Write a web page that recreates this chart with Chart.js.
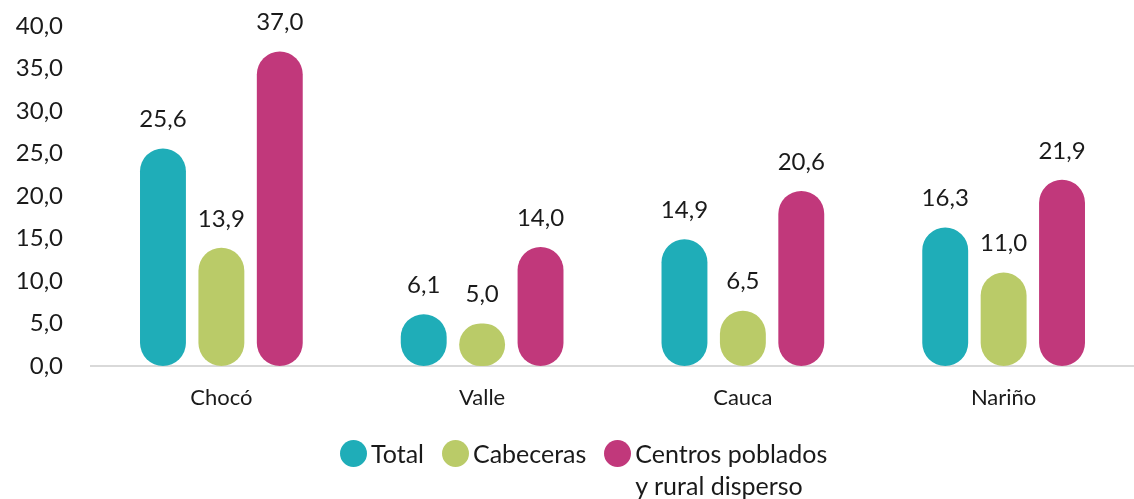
<!DOCTYPE html>
<html>
<head>
<meta charset="utf-8">
<script src="https://cdn.jsdelivr.net/npm/chart.js@4"></script>
<style>
  html, body { margin: 0; padding: 0; background: #fff; }
  #wrap { position: relative; width: 1134px; height: 499px; }
  #legend {
    position: absolute; left: 340px; top: 437px;
    display: flex; align-items: flex-start;
    font-family: Lato, sans-serif; font-size: 25px; color: #1a1a1a; line-height: 32px;
  }
  #legend .item { display: flex; align-items: flex-start; margin-right: 18px; }
  #legend .dot { width: 27px; height: 27px; border-radius: 50%; margin: 3px 4px 0 0; flex: none; }
</style>
</head>
<body>
<div id="wrap">
  <canvas id="chart" width="1134" height="499"></canvas>
  <div id="legend"></div>
</div>
<script>
// ---- données ----
const categories = ['Chocó', 'Valle', 'Cauca', 'Nariño'];
const seriesNames = [['Total'], ['Cabeceras'], ['Centros poblados', 'y rural disperso']];
const totalValues = [25.6, 6.1, 14.9, 16.3];
const cabecerasValues = [13.9, 5.0, 6.5, 11.0];
const centrosValues = [37.0, 14.0, 20.6, 21.9];
const seriesColors = ['#1fadb8', '#bacb68', '#c1387b'];

const fmt = v => v.toFixed(1).replace('.', ',');
const FONT = 'Lato, sans-serif';

// étiquettes de valeur au-dessus des barres
const valueLabels = {
  id: 'valueLabels',
  afterDatasetsDraw(chart) {
    const c = chart.ctx;
    c.save();
    c.font = '24px ' + FONT;
    c.fillStyle = '#1a1a1a';
    c.textAlign = 'center';
    c.textBaseline = 'middle';
    chart.data.datasets.forEach((ds, i) => {
      chart.getDatasetMeta(i).data.forEach((bar, j) => {
        c.fillText(fmt(ds.data[j]), bar.x, bar.y - 29);
      });
    });
    c.restore();
  }
};

const allValues = [totalValues, cabecerasValues, centrosValues];
const chart = new Chart(document.getElementById('chart'), {
  type: 'bar',
  data: {
    labels: categories,
    datasets: allValues.map((vals, i) => ({
      label: seriesNames[i].join(' '),
      data: vals,
      backgroundColor: seriesColors[i],
      borderRadius: 23,
      borderSkipped: false,
      categoryPercentage: 0.672,
      barPercentage: 0.786
    }))
  },
  options: {
    responsive: false,
    animation: false,
    layout: { padding: { top: 26, right: 0, left: 0, bottom: 0 } },
    plugins: { legend: { display: false }, tooltip: { enabled: false } },
    scales: {
      x: {
        grid: { display: false, drawTicks: false },
        border: { color: '#d9d9d9', width: 2 },
        ticks: { font: { family: FONT, size: 22 }, color: '#1a1a1a', padding: 19 },
        afterFit: s => { s.height = 133; }
      },
      y: {
        min: 0, max: 40,
        grid: { display: false, drawTicks: false },
        border: { display: false },
        ticks: {
          stepSize: 5, padding: 28,
          font: { family: FONT, size: 24 }, color: '#1a1a1a',
          callback: v => fmt(v)
        },
        // largeur fixe, sans marge haute ajoutée par le padding des ticks
        afterFit: s => { s.width = 91; s.paddingTop = 0; s.paddingBottom = 0; }
      }
    }
  },
  plugins: [valueLabels]
});

// légende HTML
const legend = document.getElementById('legend');
seriesNames.forEach((name, i) => {
  const item = document.createElement('div');
  item.className = 'item';
  item.innerHTML = '<span class="dot" style="background:' + seriesColors[i] + '"></span><span>' + name.join('<br>') + '</span>';
  legend.appendChild(item);
});
</script>
</body>
</html>
